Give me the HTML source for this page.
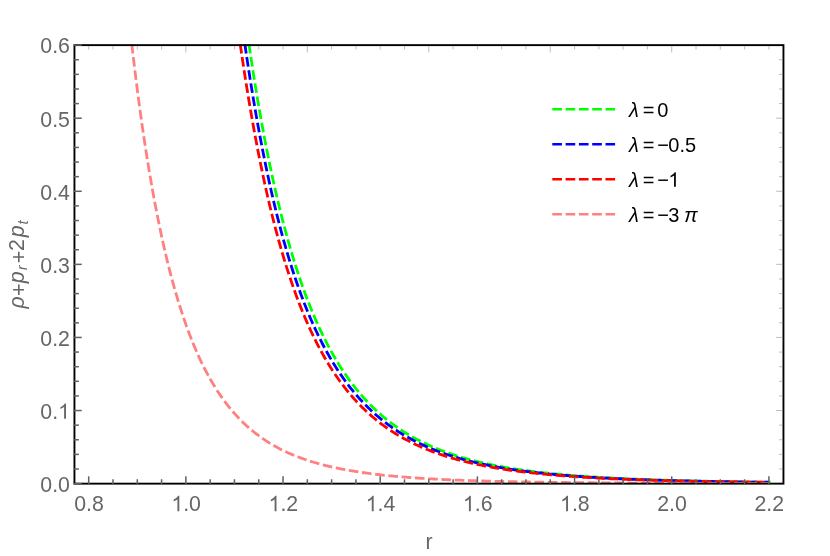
<!DOCTYPE html>
<html><head><meta charset="utf-8"><title>plot</title>
<style>html,body{margin:0;padding:0;background:#fff;overflow:hidden}svg{display:block;will-change:transform}text{font-family:"Liberation Sans",sans-serif}</style></head><body>
<svg width="830" height="556" viewBox="0 0 830 556">
<rect width="830" height="556" fill="#fff"/>
<defs><clipPath id="c"><rect x="74.45" y="44.13" width="709.00" height="439.52"/></clipPath></defs>
<g clip-path="url(#c)" fill="none" stroke-width="2.8" stroke-dasharray="9.64 3.66" stroke-dashoffset="-0.3">
<path d="M248.87,43.62 L248.94,44.07 L249.06,44.89 L249.21,45.95 L249.39,47.20 L249.60,48.61 L249.83,50.17 L250.08,51.86 L250.35,53.66 L250.63,55.57 L250.94,57.58 L251.25,59.68 L251.58,61.87 L251.93,64.14 L252.29,66.48 L252.66,68.89 L253.05,71.37 L253.44,73.91 L253.85,76.50 L254.27,79.15 L254.71,81.85 L255.15,84.60 L255.60,87.39 L256.07,90.23 L256.54,93.10 L257.02,96.01 L257.52,98.95 L258.02,101.93 L258.53,104.93 L259.06,107.96 L259.59,111.02 L260.13,114.10 L260.68,117.20 L261.23,120.31 L261.80,123.45 L262.37,126.60 L262.96,129.77 L263.55,132.95 L264.15,136.14 L264.75,139.33 L265.37,142.54 L265.99,145.75 L266.62,148.97 L267.26,152.19 L267.90,155.41 L268.56,158.64 L269.22,161.86 L269.88,165.09 L270.56,168.31 L271.24,171.53 L271.93,174.74 L272.62,177.95 L273.32,181.16 L274.03,184.35 L274.75,187.54 L275.47,190.72 L276.20,193.89 L276.93,197.05 L277.67,200.20 L278.42,203.34 L279.18,206.46 L279.94,209.57 L280.70,212.67 L281.48,215.75 L282.26,218.82 L283.04,221.87 L283.83,224.91 L284.63,227.93 L285.44,230.93 L286.25,233.92 L287.06,236.88 L287.88,239.83 L288.71,242.76 L289.54,245.67 L290.38,248.56 L291.22,251.43 L292.07,254.28 L292.93,257.11 L293.79,259.92 L294.66,262.71 L295.53,265.48 L296.41,268.22 L297.29,270.95 L298.18,273.65 L299.07,276.33 L299.97,278.98 L300.88,281.62 L301.78,284.23 L302.70,286.82 L303.62,289.38 L304.55,291.92 L305.48,294.44 L306.41,296.94 L307.35,299.41 L308.30,301.86 L309.25,304.28 L310.20,306.68 L311.16,309.06 L312.13,311.42 L313.10,313.75 L314.08,316.05 L315.06,318.34 L316.04,320.60 L317.03,322.83 L318.03,325.05 L319.03,327.24 L320.03,329.40 L321.04,331.54 L322.06,333.66 L323.07,335.76 L324.10,337.83 L325.13,339.88 L326.16,341.91 L327.20,343.91 L328.24,345.89 L329.28,347.85 L330.34,349.78 L331.39,351.69 L332.45,353.58 L333.52,355.45 L334.59,357.30 L335.66,359.12 L336.74,360.92 L337.82,362.70 L338.91,364.46 L340.00,366.19 L341.09,367.91 L342.19,369.60 L343.30,371.28 L344.41,372.93 L345.52,374.56 L346.64,376.17 L347.76,377.76 L348.88,379.33 L350.01,380.88 L351.15,382.40 L352.29,383.91 L353.43,385.40 L354.58,386.87 L355.73,388.32 L356.88,389.76 L358.04,391.17 L359.21,392.56 L360.37,393.94 L361.55,395.30 L362.72,396.63 L363.90,397.95 L365.08,399.26 L366.27,400.54 L367.46,401.81 L368.66,403.06 L369.86,404.29 L371.06,405.51 L372.27,406.71 L373.48,407.89 L374.70,409.05 L375.92,410.20 L377.14,411.34 L378.37,412.45 L379.60,413.55 L380.84,414.64 L382.08,415.71 L383.32,416.76 L384.57,417.80 L385.82,418.83 L387.07,419.84 L388.33,420.84 L389.59,421.82 L390.86,422.78 L392.13,423.74 L393.40,424.68 L394.68,425.60 L395.96,426.51 L397.24,427.41 L398.53,428.30 L399.82,429.17 L401.12,430.03 L402.42,430.88 L403.72,431.71 L405.03,432.53 L406.34,433.34 L407.65,434.14 L408.97,434.92 L410.29,435.70 L411.62,436.46 L412.94,437.21 L414.28,437.95 L415.61,438.68 L416.95,439.39 L418.29,440.10 L419.64,440.79 L420.99,441.48 L422.34,442.15 L423.70,442.82 L425.06,443.47 L426.42,444.12 L427.79,444.75 L429.16,445.37 L430.54,445.99 L431.92,446.59 L433.30,447.19 L434.68,447.77 L436.07,448.35 L437.46,448.92 L438.86,449.48 L440.26,450.03 L441.66,450.57 L443.06,451.11 L444.47,451.63 L445.88,452.15 L447.30,452.66 L448.72,453.16 L450.14,453.65 L451.57,454.14 L453.00,454.62 L454.43,455.09 L455.87,455.55 L457.30,456.00 L458.75,456.45 L460.19,456.89 L461.64,457.33 L463.09,457.75 L464.55,458.18 L466.01,458.59 L467.47,459.00 L468.94,459.40 L470.40,459.79 L471.88,460.18 L473.35,460.56 L474.83,460.94 L476.31,461.31 L477.80,461.67 L479.29,462.03 L480.78,462.38 L482.27,462.73 L483.77,463.07 L485.27,463.40 L486.77,463.73 L488.28,464.06 L489.79,464.38 L491.31,464.69 L492.82,465.00 L494.34,465.30 L495.86,465.60 L497.39,465.90 L498.92,466.19 L500.45,466.47 L501.99,466.75 L503.53,467.03 L505.07,467.30 L506.61,467.57 L508.16,467.83 L509.71,468.09 L511.27,468.34 L512.82,468.59 L514.38,468.84 L515.95,469.08 L517.51,469.32 L519.08,469.55 L520.66,469.78 L522.23,470.01 L523.81,470.23 L525.39,470.45 L526.98,470.66 L528.56,470.88 L530.15,471.09 L531.75,471.29 L533.35,471.49 L534.94,471.69 L536.55,471.89 L538.15,472.08 L539.76,472.27 L541.37,472.45 L542.99,472.63 L544.61,472.81 L546.23,472.99 L547.85,473.16 L549.48,473.34 L551.10,473.50 L552.74,473.67 L554.37,473.83 L556.01,473.99 L557.65,474.15 L559.30,474.30 L560.94,474.46 L562.59,474.61 L564.24,474.75 L565.90,474.90 L567.56,475.04 L569.22,475.18 L570.88,475.32 L572.55,475.45 L574.22,475.59 L575.89,475.72 L577.57,475.85 L579.25,475.97 L580.93,476.10 L582.61,476.22 L584.30,476.34 L585.99,476.46 L587.68,476.58 L589.38,476.69 L591.08,476.80 L592.78,476.91 L594.48,477.02 L596.19,477.13 L597.90,477.24 L599.61,477.34 L601.32,477.44 L603.04,477.54 L604.76,477.64 L606.49,477.74 L608.21,477.83 L609.94,477.93 L611.67,478.02 L613.41,478.11 L615.14,478.20 L616.88,478.29 L618.63,478.37 L620.37,478.46 L622.12,478.54 L623.87,478.62 L625.63,478.70 L627.38,478.78 L629.14,478.86 L630.90,478.94 L632.67,479.02 L634.44,479.09 L636.21,479.16 L637.98,479.23 L639.75,479.31 L641.53,479.37 L643.31,479.44 L645.10,479.51 L646.88,479.58 L648.67,479.64 L650.46,479.71 L652.26,479.77 L654.05,479.83 L655.85,479.89 L657.65,479.95 L659.46,480.01 L661.27,480.07 L663.08,480.13 L664.89,480.18 L666.70,480.24 L668.52,480.29 L670.34,480.34 L672.17,480.40 L673.99,480.45 L675.82,480.50 L677.65,480.55 L679.49,480.60 L681.32,480.65 L683.16,480.69 L685.00,480.74 L686.85,480.79 L688.69,480.83 L690.54,480.88 L692.39,480.92 L694.25,480.96 L696.11,481.01 L697.97,481.05 L699.83,481.09 L701.69,481.13 L703.56,481.17 L705.43,481.21 L707.30,481.24 L709.18,481.28 L711.05,481.32 L712.93,481.36 L714.82,481.39 L716.70,481.43 L718.59,481.46 L720.48,481.50 L722.37,481.53 L724.27,481.56 L726.17,481.60 L728.07,481.63 L729.97,481.66 L731.87,481.69 L733.78,481.72 L735.69,481.75 L737.61,481.78 L739.52,481.81 L741.44,481.84 L743.36,481.86 L745.28,481.89 L747.21,481.92 L749.13,481.95 L751.06,481.97 L753.00,482.00 L754.93,482.02 L756.87,482.05 L758.81,482.07 L760.75,482.10 L762.70,482.12 L764.65,482.14 L766.60,482.17 L768.55,482.19 L770.50,482.21" stroke="#00ff00"/>
<path d="M244.78,43.62 L244.85,44.07 L244.97,44.91 L245.12,45.98 L245.31,47.24 L245.52,48.68 L245.75,50.25 L246.00,51.96 L246.27,53.78 L246.55,55.72 L246.86,57.75 L247.17,59.88 L247.51,62.09 L247.86,64.38 L248.22,66.75 L248.59,69.19 L248.98,71.70 L249.38,74.26 L249.79,76.89 L250.21,79.57 L250.64,82.30 L251.09,85.08 L251.54,87.90 L252.01,90.76 L252.49,93.67 L252.97,96.61 L253.47,99.58 L253.98,102.59 L254.49,105.62 L255.02,108.68 L255.55,111.77 L256.09,114.88 L256.64,118.01 L257.20,121.16 L257.77,124.33 L258.35,127.51 L258.94,130.70 L259.53,133.91 L260.13,137.13 L260.74,140.36 L261.36,143.59 L261.98,146.83 L262.62,150.08 L263.26,153.33 L263.91,156.58 L264.56,159.83 L265.22,163.08 L265.89,166.33 L266.57,169.58 L267.26,172.82 L267.95,176.06 L268.65,179.29 L269.35,182.52 L270.06,185.74 L270.78,188.95 L271.51,192.15 L272.24,195.34 L272.98,198.52 L273.72,201.69 L274.47,204.85 L275.23,207.99 L276.00,211.12 L276.77,214.24 L277.54,217.34 L278.33,220.42 L279.12,223.49 L279.91,226.54 L280.71,229.58 L281.52,232.60 L282.33,235.60 L283.15,238.58 L283.98,241.54 L284.81,244.48 L285.65,247.40 L286.49,250.31 L287.34,253.19 L288.19,256.05 L289.05,258.89 L289.92,261.71 L290.79,264.50 L291.66,267.28 L292.54,270.03 L293.43,272.76 L294.32,275.47 L295.22,278.16 L296.13,280.82 L297.03,283.46 L297.95,286.07 L298.87,288.67 L299.79,291.24 L300.72,293.78 L301.66,296.30 L302.60,298.80 L303.54,301.28 L304.49,303.73 L305.45,306.15 L306.41,308.55 L307.37,310.93 L308.34,313.29 L309.32,315.62 L310.30,317.93 L311.28,320.21 L312.27,322.47 L313.27,324.70 L314.27,326.91 L315.27,329.10 L316.28,331.26 L317.30,333.40 L318.32,335.52 L319.34,337.61 L320.37,339.68 L321.40,341.72 L322.44,343.74 L323.48,345.74 L324.53,347.72 L325.58,349.67 L326.64,351.60 L327.70,353.51 L328.76,355.39 L329.83,357.25 L330.91,359.09 L331.98,360.90 L333.07,362.70 L334.16,364.47 L335.25,366.22 L336.34,367.95 L337.44,369.66 L338.55,371.34 L339.66,373.01 L340.77,374.65 L341.89,376.27 L343.01,377.87 L344.14,379.45 L345.27,381.01 L346.41,382.55 L347.55,384.07 L348.69,385.57 L349.84,387.05 L350.99,388.51 L352.15,389.95 L353.31,391.37 L354.47,392.78 L355.64,394.16 L356.82,395.52 L357.99,396.87 L359.17,398.20 L360.36,399.51 L361.55,400.80 L362.74,402.07 L363.94,403.33 L365.14,404.57 L366.35,405.79 L367.56,407.00 L368.77,408.18 L369.99,409.35 L371.21,410.51 L372.44,411.65 L373.66,412.77 L374.90,413.87 L376.14,414.96 L377.38,416.04 L378.62,417.10 L379.87,418.14 L381.12,419.17 L382.38,420.18 L383.64,421.18 L384.90,422.17 L386.17,423.14 L387.44,424.09 L388.72,425.03 L390.00,425.96 L391.28,426.87 L392.57,427.78 L393.86,428.66 L395.15,429.54 L396.45,430.40 L397.75,431.25 L399.06,432.08 L400.37,432.90 L401.68,433.71 L403.00,434.51 L404.32,435.30 L405.64,436.07 L406.97,436.83 L408.30,437.59 L409.64,438.32 L410.98,439.05 L412.32,439.77 L413.66,440.48 L415.01,441.17 L416.36,441.86 L417.72,442.53 L419.08,443.19 L420.44,443.85 L421.81,444.49 L423.18,445.12 L424.56,445.75 L425.93,446.36 L427.31,446.96 L428.70,447.56 L430.09,448.14 L431.48,448.72 L432.87,449.29 L434.27,449.85 L435.67,450.39 L437.08,450.94 L438.49,451.47 L439.90,451.99 L441.32,452.51 L442.73,453.02 L444.16,453.51 L445.58,454.01 L447.01,454.49 L448.44,454.97 L449.88,455.43 L451.32,455.90 L452.76,456.35 L454.21,456.80 L455.66,457.23 L457.11,457.67 L458.57,458.09 L460.03,458.51 L461.49,458.92 L462.95,459.33 L464.42,459.73 L465.90,460.12 L467.37,460.50 L468.85,460.88 L470.33,461.26 L471.82,461.62 L473.31,461.99 L474.80,462.34 L476.29,462.69 L477.79,463.04 L479.29,463.37 L480.80,463.71 L482.31,464.04 L483.82,464.36 L485.33,464.68 L486.85,464.99 L488.37,465.29 L489.90,465.60 L491.42,465.89 L492.95,466.18 L494.49,466.47 L496.02,466.75 L497.56,467.03 L499.11,467.31 L500.65,467.58 L502.20,467.84 L503.75,468.10 L505.31,468.36 L506.87,468.61 L508.43,468.85 L509.99,469.10 L511.56,469.34 L513.13,469.57 L514.71,469.81 L516.28,470.03 L517.86,470.26 L519.45,470.48 L521.03,470.69 L522.62,470.91 L524.21,471.12 L525.81,471.32 L527.41,471.53 L529.01,471.73 L530.61,471.92 L532.22,472.11 L533.83,472.30 L535.44,472.49 L537.06,472.67 L538.68,472.85 L540.30,473.03 L541.93,473.21 L543.55,473.38 L545.19,473.55 L546.82,473.71 L548.46,473.88 L550.10,474.04 L551.74,474.19 L553.38,474.35 L555.03,474.50 L556.69,474.65 L558.34,474.80 L560.00,474.94 L561.66,475.09 L563.32,475.23 L564.99,475.37 L566.66,475.50 L568.33,475.64 L570.00,475.77 L571.68,475.90 L573.36,476.02 L575.05,476.15 L576.73,476.27 L578.42,476.39 L580.11,476.51 L581.81,476.63 L583.51,476.74 L585.21,476.85 L586.91,476.96 L588.62,477.07 L590.33,477.18 L592.04,477.29 L593.75,477.39 L595.47,477.49 L597.19,477.59 L598.91,477.69 L600.64,477.79 L602.37,477.88 L604.10,477.98 L605.84,478.07 L607.57,478.16 L609.31,478.25 L611.06,478.34 L612.80,478.42 L614.55,478.51 L616.30,478.59 L618.05,478.67 L619.81,478.75 L621.57,478.83 L623.33,478.91 L625.10,478.99 L626.86,479.06 L628.63,479.14 L630.41,479.21 L632.18,479.28 L633.96,479.35 L635.74,479.42 L637.53,479.49 L639.31,479.56 L641.10,479.62 L642.89,479.69 L644.69,479.75 L646.49,479.81 L648.29,479.88 L650.09,479.94 L651.89,480.00 L653.70,480.06 L655.51,480.11 L657.33,480.17 L659.14,480.23 L660.96,480.28 L662.78,480.33 L664.61,480.39 L666.43,480.44 L668.26,480.49 L670.09,480.54 L671.93,480.59 L673.77,480.64 L675.61,480.69 L677.45,480.74 L679.29,480.78 L681.14,480.83 L682.99,480.87 L684.84,480.92 L686.70,480.96 L688.56,481.00 L690.42,481.04 L692.28,481.09 L694.15,481.13 L696.02,481.17 L697.89,481.21 L699.76,481.24 L701.64,481.28 L703.52,481.32 L705.40,481.36 L707.28,481.39 L709.17,481.43 L711.06,481.46 L712.95,481.50 L714.84,481.53 L716.74,481.56 L718.64,481.60 L720.54,481.63 L722.44,481.66 L724.35,481.69 L726.26,481.72 L728.17,481.75 L730.09,481.78 L732.00,481.81 L733.92,481.84 L735.85,481.87 L737.77,481.90 L739.70,481.92 L741.63,481.95 L743.56,481.98 L745.49,482.00 L747.43,482.03 L749.37,482.05 L751.31,482.08 L753.26,482.10 L755.20,482.13 L757.15,482.15 L759.10,482.17 L761.06,482.20 L763.01,482.22 L764.97,482.24 L766.94,482.26 L768.90,482.28" stroke="#0000ff"/>
<path d="M240.16,43.62 L240.22,44.08 L240.34,44.93 L240.50,46.02 L240.68,47.31 L240.89,48.76 L241.13,50.37 L241.38,52.10 L241.65,53.96 L241.94,55.93 L242.25,57.99 L242.57,60.16 L242.90,62.41 L243.25,64.74 L243.62,67.14 L243.99,69.62 L244.39,72.17 L244.79,74.78 L245.20,77.44 L245.63,80.17 L246.07,82.94 L246.52,85.76 L246.98,88.63 L247.45,91.54 L247.93,94.48 L248.42,97.47 L248.92,100.49 L249.43,103.54 L249.95,106.62 L250.48,109.72 L251.02,112.85 L251.56,116.01 L252.12,119.18 L252.68,122.37 L253.26,125.58 L253.84,128.81 L254.43,132.04 L255.03,135.29 L255.64,138.55 L256.25,141.82 L256.88,145.10 L257.51,148.38 L258.15,151.66 L258.79,154.95 L259.45,158.24 L260.11,161.53 L260.78,164.82 L261.45,168.10 L262.13,171.39 L262.83,174.66 L263.52,177.94 L264.23,181.20 L264.94,184.46 L265.66,187.72 L266.38,190.96 L267.11,194.19 L267.85,197.41 L268.60,200.62 L269.35,203.82 L270.11,207.00 L270.87,210.17 L271.64,213.33 L272.42,216.47 L273.20,219.60 L273.99,222.71 L274.79,225.80 L275.59,228.87 L276.40,231.93 L277.22,234.97 L278.04,237.99 L278.86,240.99 L279.70,243.97 L280.53,246.93 L281.38,249.87 L282.23,252.78 L283.08,255.68 L283.95,258.56 L284.81,261.41 L285.69,264.24 L286.56,267.05 L287.45,269.84 L288.34,272.60 L289.23,275.34 L290.13,278.06 L291.04,280.75 L291.95,283.42 L292.87,286.07 L293.79,288.69 L294.72,291.29 L295.65,293.87 L296.59,296.42 L297.53,298.94 L298.48,301.45 L299.43,303.92 L300.39,306.37 L301.35,308.80 L302.32,311.21 L303.30,313.59 L304.28,315.94 L305.26,318.27 L306.25,320.58 L307.24,322.86 L308.24,325.11 L309.24,327.34 L310.25,329.55 L311.27,331.73 L312.29,333.89 L313.31,336.03 L314.34,338.14 L315.37,340.22 L316.41,342.29 L317.45,344.33 L318.50,346.34 L319.55,348.33 L320.60,350.30 L321.66,352.24 L322.73,354.16 L323.80,356.06 L324.87,357.93 L325.95,359.79 L327.04,361.61 L328.13,363.42 L329.22,365.20 L330.32,366.97 L331.42,368.70 L332.52,370.42 L333.63,372.12 L334.75,373.79 L335.87,375.44 L336.99,377.07 L338.12,378.68 L339.25,380.27 L340.39,381.84 L341.53,383.38 L342.68,384.91 L343.83,386.42 L344.98,387.90 L346.14,389.37 L347.30,390.81 L348.47,392.24 L349.64,393.65 L350.81,395.03 L351.99,396.40 L353.18,397.75 L354.36,399.08 L355.56,400.40 L356.75,401.69 L357.95,402.97 L359.16,404.22 L360.36,405.46 L361.58,406.69 L362.79,407.89 L364.01,409.08 L365.24,410.25 L366.47,411.41 L367.70,412.55 L368.93,413.67 L370.17,414.77 L371.42,415.86 L372.67,416.94 L373.92,417.99 L375.17,419.04 L376.43,420.06 L377.70,421.08 L378.97,422.07 L380.24,423.06 L381.51,424.02 L382.79,424.98 L384.07,425.92 L385.36,426.84 L386.65,427.75 L387.95,428.65 L389.25,429.54 L390.55,430.41 L391.85,431.26 L393.16,432.11 L394.48,432.94 L395.79,433.76 L397.11,434.57 L398.44,435.36 L399.77,436.14 L401.10,436.91 L402.43,437.67 L403.77,438.42 L405.12,439.15 L406.46,439.88 L407.81,440.59 L409.17,441.29 L410.53,441.98 L411.89,442.66 L413.25,443.33 L414.62,443.99 L415.99,444.64 L417.37,445.27 L418.75,445.90 L420.13,446.52 L421.51,447.13 L422.90,447.73 L424.30,448.32 L425.69,448.90 L427.09,449.47 L428.50,450.03 L429.91,450.58 L431.32,451.13 L432.73,451.66 L434.15,452.19 L435.57,452.71 L436.99,453.22 L438.42,453.72 L439.85,454.21 L441.29,454.70 L442.73,455.18 L444.17,455.65 L445.61,456.11 L447.06,456.57 L448.51,457.02 L449.97,457.46 L451.43,457.89 L452.89,458.32 L454.36,458.74 L455.83,459.15 L457.30,459.55 L458.77,459.95 L460.25,460.35 L461.73,460.73 L463.22,461.11 L464.71,461.49 L466.20,461.86 L467.70,462.22 L469.19,462.57 L470.70,462.92 L472.20,463.27 L473.71,463.61 L475.22,463.94 L476.74,464.27 L478.25,464.59 L479.78,464.91 L481.30,465.22 L482.83,465.53 L484.36,465.83 L485.89,466.12 L487.43,466.42 L488.97,466.70 L490.52,466.98 L492.06,467.26 L493.61,467.53 L495.17,467.80 L496.72,468.07 L498.28,468.33 L499.85,468.58 L501.41,468.83 L502.98,469.08 L504.55,469.32 L506.13,469.56 L507.71,469.79 L509.29,470.02 L510.87,470.25 L512.46,470.47 L514.05,470.69 L515.65,470.91 L517.24,471.12 L518.84,471.33 L520.45,471.53 L522.05,471.74 L523.66,471.93 L525.27,472.13 L526.89,472.32 L528.51,472.51 L530.13,472.69 L531.75,472.88 L533.38,473.06 L535.01,473.23 L536.64,473.41 L538.28,473.58 L539.92,473.74 L541.56,473.91 L543.21,474.07 L544.86,474.23 L546.51,474.38 L548.16,474.54 L549.82,474.69 L551.48,474.84 L553.14,474.98 L554.81,475.13 L556.48,475.27 L558.15,475.41 L559.83,475.55 L561.51,475.68 L563.19,475.81 L564.87,475.94 L566.56,476.07 L568.25,476.19 L569.94,476.32 L571.64,476.44 L573.33,476.56 L575.04,476.68 L576.74,476.79 L578.45,476.90 L580.16,477.02 L581.87,477.12 L583.59,477.23 L585.30,477.34 L587.03,477.44 L588.75,477.54 L590.48,477.65 L592.21,477.74 L593.94,477.84 L595.67,477.94 L597.41,478.03 L599.15,478.12 L600.90,478.21 L602.65,478.30 L604.40,478.39 L606.15,478.48 L607.90,478.56 L609.66,478.65 L611.42,478.73 L613.19,478.81 L614.95,478.89 L616.72,478.97 L618.49,479.04 L620.27,479.12 L622.05,479.19 L623.83,479.26 L625.61,479.34 L627.40,479.41 L629.18,479.48 L630.98,479.54 L632.77,479.61 L634.57,479.68 L636.37,479.74 L638.17,479.81 L639.97,479.87 L641.78,479.93 L643.59,479.99 L645.41,480.05 L647.22,480.11 L649.04,480.17 L650.86,480.22 L652.69,480.28 L654.51,480.33 L656.34,480.39 L658.17,480.44 L660.01,480.49 L661.85,480.54 L663.69,480.59 L665.53,480.64 L667.37,480.69 L669.22,480.74 L671.07,480.78 L672.93,480.83 L674.78,480.88 L676.64,480.92 L678.50,480.96 L680.37,481.01 L682.23,481.05 L684.10,481.09 L685.97,481.13 L687.85,481.17 L689.73,481.21 L691.61,481.25 L693.49,481.29 L695.37,481.33 L697.26,481.36 L699.15,481.40 L701.04,481.44 L702.94,481.47 L704.84,481.51 L706.74,481.54 L708.64,481.57 L710.55,481.61 L712.45,481.64 L714.37,481.67 L716.28,481.70 L718.19,481.73 L720.11,481.76 L722.03,481.79 L723.96,481.82 L725.88,481.85 L727.81,481.88 L729.74,481.91 L731.68,481.94 L733.61,481.96 L735.55,481.99 L737.49,482.01 L739.44,482.04 L741.39,482.07 L743.33,482.09 L745.29,482.11 L747.24,482.14 L749.20,482.16 L751.16,482.19 L753.12,482.21 L755.08,482.23 L757.05,482.25 L759.02,482.27 L760.99,482.30 L762.96,482.32 L764.94,482.34 L766.92,482.36 L768.90,482.38" stroke="#ff0000"/>
<path d="M131.72,43.62 L131.80,44.32 L131.94,45.59 L132.13,47.23 L132.36,49.17 L132.61,51.35 L132.89,53.75 L133.19,56.34 L133.52,59.11 L133.87,62.03 L134.24,65.09 L134.62,68.29 L135.03,71.60 L135.45,75.03 L135.89,78.55 L136.35,82.17 L136.82,85.87 L137.30,89.65 L137.80,93.50 L138.31,97.42 L138.84,101.39 L139.38,105.42 L139.94,109.50 L140.50,113.62 L141.08,117.77 L141.67,121.96 L142.28,126.18 L142.89,130.43 L143.52,134.70 L144.16,138.98 L144.81,143.28 L145.47,147.60 L146.14,151.91 L146.82,156.24 L147.51,160.56 L148.21,164.89 L148.92,169.21 L149.64,173.52 L150.38,177.83 L151.12,182.12 L151.87,186.40 L152.63,190.67 L153.40,194.92 L154.18,199.15 L154.96,203.36 L155.76,207.55 L156.57,211.71 L157.38,215.85 L158.21,219.96 L159.04,224.04 L159.88,228.09 L160.73,232.11 L161.58,236.10 L162.45,240.06 L163.32,243.98 L164.21,247.87 L165.10,251.72 L165.99,255.53 L166.90,259.31 L167.81,263.05 L168.73,266.76 L169.66,270.42 L170.60,274.04 L171.55,277.62 L172.50,281.17 L173.46,284.67 L174.42,288.13 L175.40,291.55 L176.38,294.92 L177.37,298.26 L178.36,301.55 L179.37,304.80 L180.38,308.01 L181.40,311.18 L182.42,314.30 L183.45,317.38 L184.49,320.42 L185.53,323.42 L186.59,326.37 L187.64,329.28 L188.71,332.15 L189.78,334.98 L190.86,337.76 L191.94,340.51 L193.04,343.21 L194.13,345.87 L195.24,348.49 L196.35,351.07 L197.47,353.61 L198.59,356.11 L199.72,358.57 L200.86,360.99 L202.00,363.37 L203.15,365.71 L204.31,368.01 L205.47,370.28 L206.63,372.50 L207.81,374.69 L208.99,376.85 L210.17,378.96 L211.37,381.04 L212.56,383.08 L213.77,385.09 L214.98,387.06 L216.19,389.00 L217.41,390.91 L218.64,392.77 L219.87,394.61 L221.11,396.41 L222.36,398.19 L223.61,399.92 L224.86,401.63 L226.12,403.31 L227.39,404.95 L228.66,406.56 L229.94,408.15 L231.23,409.70 L232.52,411.23 L233.81,412.72 L235.11,414.19 L236.42,415.63 L237.73,417.05 L239.05,418.43 L240.37,419.79 L241.70,421.12 L243.03,422.43 L244.37,423.71 L245.71,424.97 L247.06,426.20 L248.41,427.41 L249.77,428.59 L251.14,429.76 L252.51,430.89 L253.88,432.01 L255.26,433.10 L256.65,434.17 L258.04,435.22 L259.44,436.25 L260.84,437.26 L262.24,438.25 L263.65,439.21 L265.07,440.16 L266.49,441.09 L267.92,442.00 L269.35,442.89 L270.79,443.77 L272.23,444.62 L273.67,445.46 L275.12,446.28 L276.58,447.08 L278.04,447.87 L279.51,448.64 L280.98,449.39 L282.45,450.13 L283.93,450.85 L285.42,451.56 L286.91,452.25 L288.40,452.93 L289.90,453.60 L291.40,454.25 L292.91,454.88 L294.43,455.51 L295.95,456.12 L297.47,456.72 L299.00,457.30 L300.53,457.87 L302.07,458.43 L303.61,458.98 L305.15,459.52 L306.70,460.04 L308.26,460.55 L309.82,461.06 L311.38,461.55 L312.95,462.03 L314.53,462.50 L316.11,462.96 L317.69,463.41 L319.27,463.85 L320.87,464.28 L322.46,464.71 L324.06,465.12 L325.67,465.52 L327.28,465.92 L328.89,466.31 L330.51,466.69 L332.13,467.06 L333.76,467.42 L335.39,467.77 L337.03,468.12 L338.67,468.46 L340.31,468.79 L341.96,469.11 L343.62,469.43 L345.27,469.74 L346.93,470.05 L348.60,470.34 L350.27,470.63 L351.95,470.92 L353.63,471.19 L355.31,471.47 L357.00,471.73 L358.69,471.99 L360.38,472.25 L362.08,472.50 L363.79,472.74 L365.50,472.98 L367.21,473.21 L368.93,473.44 L370.65,473.66 L372.37,473.88 L374.10,474.09 L375.83,474.30 L377.57,474.50 L379.31,474.70 L381.06,474.90 L382.81,475.09 L384.56,475.27 L386.32,475.45 L388.08,475.63 L389.85,475.81 L391.62,475.98 L393.39,476.14 L395.17,476.31 L396.95,476.47 L398.74,476.62 L400.53,476.77 L402.32,476.92 L404.12,477.07 L405.92,477.21 L407.73,477.35 L409.54,477.49 L411.35,477.62 L413.17,477.75 L414.99,477.88 L416.82,478.00 L418.65,478.12 L420.48,478.24 L422.32,478.36 L424.16,478.47 L426.00,478.58 L427.85,478.69 L429.71,478.80 L431.56,478.90 L433.42,479.01 L435.29,479.11 L437.16,479.20 L439.03,479.30 L440.90,479.39 L442.78,479.48 L444.67,479.57 L446.55,479.66 L448.44,479.74 L450.34,479.83 L452.24,479.91 L454.14,479.99 L456.05,480.07 L457.96,480.14 L459.87,480.22 L461.79,480.29 L463.71,480.36 L465.63,480.43 L467.56,480.50 L469.49,480.57 L471.43,480.63 L473.37,480.70 L475.31,480.76 L477.26,480.82 L479.21,480.88 L481.16,480.94 L483.12,480.99 L485.08,481.05 L487.04,481.11 L489.01,481.16 L490.99,481.21 L492.96,481.26 L494.94,481.31 L496.92,481.36 L498.91,481.41 L500.90,481.46 L502.89,481.50 L504.89,481.55 L506.89,481.59 L508.90,481.63 L510.90,481.67 L512.92,481.72 L514.93,481.76 L516.95,481.80 L518.97,481.83 L521.00,481.87 L523.03,481.91 L525.06,481.94 L527.10,481.98 L529.14,482.01 L531.18,482.05 L533.23,482.08 L535.28,482.11 L537.33,482.14 L539.39,482.17 L541.45,482.20 L543.51,482.23 L545.58,482.26 L547.65,482.29 L549.73,482.32 L551.80,482.35 L553.88,482.37 L555.97,482.40 L558.06,482.42 L560.15,482.45 L562.24,482.47 L564.34,482.50 L566.44,482.52 L568.55,482.54 L570.66,482.56 L572.77,482.59 L574.89,482.61 L577.00,482.63 L579.13,482.65 L581.25,482.67 L583.38,482.69 L585.51,482.71 L587.65,482.73 L589.79,482.74 L591.93,482.76 L594.07,482.78 L596.22,482.80 L598.38,482.81 L600.53,482.83 L602.69,482.85 L604.85,482.86 L607.02,482.88 L609.19,482.89 L611.36,482.91 L613.53,482.92 L615.71,482.94 L617.89,482.95 L620.08,482.96 L622.27,482.98 L624.46,482.99 L626.65,483.00 L628.85,483.01 L631.05,483.03 L633.26,483.04 L635.47,483.05 L637.68,483.06 L639.89,483.07 L642.11,483.08 L644.33,483.10 L646.55,483.11 L648.78,483.12 L651.01,483.13 L653.24,483.14 L655.48,483.15 L657.72,483.15 L659.96,483.16 L662.21,483.17 L664.46,483.18 L666.71,483.19 L668.97,483.20 L671.23,483.21 L673.49,483.22 L675.75,483.22 L678.02,483.23 L680.29,483.24 L682.57,483.25 L684.85,483.25 L687.13,483.26 L689.41,483.27 L691.70,483.28 L693.99,483.28 L696.28,483.29 L698.58,483.30 L700.88,483.30 L703.18,483.31 L705.49,483.31 L707.80,483.32 L710.11,483.33 L712.42,483.33 L714.74,483.34 L717.06,483.34 L719.39,483.35 L721.71,483.35 L724.04,483.36 L726.38,483.36 L728.71,483.37 L731.05,483.37 L733.40,483.38 L735.74,483.38 L738.09,483.39 L740.44,483.39 L742.80,483.40 L745.16,483.40 L747.52,483.40 L749.88,483.41 L752.25,483.41 L754.62,483.42 L756.99,483.42 L759.37,483.42 L761.75,483.43 L764.13,483.43 L766.51,483.44 L768.90,483.44" stroke="#ff8080"/>
</g>
<rect x="74.45" y="45.13" width="709.00" height="438.52" fill="none" stroke="#000" stroke-width="1.9"/>
<g fill="none"><path d="M88.70,484.45 v-8.10" stroke="#606060" stroke-width="1.5"/><path d="M88.70,46.13 v3.40" stroke="#a0a0a0" stroke-width="0.7"/><path d="M112.99,484.45 v-5.20" stroke="#606060" stroke-width="1.5"/><path d="M112.99,46.13 v3.40" stroke="#a0a0a0" stroke-width="0.7"/><path d="M137.29,484.45 v-5.20" stroke="#606060" stroke-width="1.5"/><path d="M137.29,46.13 v3.40" stroke="#a0a0a0" stroke-width="0.7"/><path d="M161.58,484.45 v-5.20" stroke="#606060" stroke-width="1.5"/><path d="M161.58,46.13 v3.40" stroke="#a0a0a0" stroke-width="0.7"/><path d="M185.87,484.45 v-8.10" stroke="#606060" stroke-width="1.5"/><path d="M185.87,46.13 v6.30" stroke="#a0a0a0" stroke-width="0.7"/><path d="M210.16,484.45 v-5.20" stroke="#606060" stroke-width="1.5"/><path d="M210.16,46.13 v3.40" stroke="#a0a0a0" stroke-width="0.7"/><path d="M234.46,484.45 v-5.20" stroke="#606060" stroke-width="1.5"/><path d="M234.46,46.13 v3.40" stroke="#a0a0a0" stroke-width="0.7"/><path d="M258.75,484.45 v-5.20" stroke="#606060" stroke-width="1.5"/><path d="M258.75,46.13 v3.40" stroke="#a0a0a0" stroke-width="0.7"/><path d="M283.04,484.45 v-8.10" stroke="#606060" stroke-width="1.5"/><path d="M283.04,46.13 v3.40" stroke="#a0a0a0" stroke-width="0.7"/><path d="M307.34,484.45 v-5.20" stroke="#606060" stroke-width="1.5"/><path d="M307.34,46.13 v6.30" stroke="#a0a0a0" stroke-width="0.7"/><path d="M331.63,484.45 v-5.20" stroke="#606060" stroke-width="1.5"/><path d="M331.63,46.13 v3.40" stroke="#a0a0a0" stroke-width="0.7"/><path d="M355.92,484.45 v-5.20" stroke="#606060" stroke-width="1.5"/><path d="M355.92,46.13 v3.40" stroke="#a0a0a0" stroke-width="0.7"/><path d="M380.21,484.45 v-8.10" stroke="#606060" stroke-width="1.5"/><path d="M380.21,46.13 v3.40" stroke="#a0a0a0" stroke-width="0.7"/><path d="M404.51,484.45 v-5.20" stroke="#606060" stroke-width="1.5"/><path d="M404.51,46.13 v3.40" stroke="#a0a0a0" stroke-width="0.7"/><path d="M428.80,484.45 v-5.20" stroke="#606060" stroke-width="1.5"/><path d="M428.80,46.13 v6.30" stroke="#a0a0a0" stroke-width="0.7"/><path d="M453.09,484.45 v-5.20" stroke="#606060" stroke-width="1.5"/><path d="M453.09,46.13 v3.40" stroke="#a0a0a0" stroke-width="0.7"/><path d="M477.39,484.45 v-8.10" stroke="#606060" stroke-width="1.5"/><path d="M477.39,46.13 v3.40" stroke="#a0a0a0" stroke-width="0.7"/><path d="M501.68,484.45 v-5.20" stroke="#606060" stroke-width="1.5"/><path d="M501.68,46.13 v3.40" stroke="#a0a0a0" stroke-width="0.7"/><path d="M525.97,484.45 v-5.20" stroke="#606060" stroke-width="1.5"/><path d="M525.97,46.13 v3.40" stroke="#a0a0a0" stroke-width="0.7"/><path d="M550.26,484.45 v-5.20" stroke="#606060" stroke-width="1.5"/><path d="M550.26,46.13 v6.30" stroke="#a0a0a0" stroke-width="0.7"/><path d="M574.56,484.45 v-8.10" stroke="#606060" stroke-width="1.5"/><path d="M574.56,46.13 v3.40" stroke="#a0a0a0" stroke-width="0.7"/><path d="M598.85,484.45 v-5.20" stroke="#606060" stroke-width="1.5"/><path d="M598.85,46.13 v3.40" stroke="#a0a0a0" stroke-width="0.7"/><path d="M623.14,484.45 v-5.20" stroke="#606060" stroke-width="1.5"/><path d="M623.14,46.13 v3.40" stroke="#a0a0a0" stroke-width="0.7"/><path d="M647.44,484.45 v-5.20" stroke="#606060" stroke-width="1.5"/><path d="M647.44,46.13 v3.40" stroke="#a0a0a0" stroke-width="0.7"/><path d="M671.73,484.45 v-8.10" stroke="#606060" stroke-width="1.5"/><path d="M671.73,46.13 v6.30" stroke="#a0a0a0" stroke-width="0.7"/><path d="M696.02,484.45 v-5.20" stroke="#606060" stroke-width="1.5"/><path d="M696.02,46.13 v3.40" stroke="#a0a0a0" stroke-width="0.7"/><path d="M720.31,484.45 v-5.20" stroke="#606060" stroke-width="1.5"/><path d="M720.31,46.13 v3.40" stroke="#a0a0a0" stroke-width="0.7"/><path d="M744.61,484.45 v-5.20" stroke="#606060" stroke-width="1.5"/><path d="M744.61,46.13 v3.40" stroke="#a0a0a0" stroke-width="0.7"/><path d="M768.90,484.45 v-8.10" stroke="#606060" stroke-width="1.5"/><path d="M768.90,46.13 v3.40" stroke="#a0a0a0" stroke-width="0.7"/><path d="M73.65,483.62 h8.10" stroke="#606060" stroke-width="1.5"/><path d="M73.65,469.00 h5.20" stroke="#606060" stroke-width="1.5"/><path d="M782.45,469.00 h-3.40" stroke="#a0a0a0" stroke-width="0.7"/><path d="M73.65,454.39 h5.20" stroke="#606060" stroke-width="1.5"/><path d="M782.45,454.39 h-3.40" stroke="#a0a0a0" stroke-width="0.7"/><path d="M73.65,439.77 h5.20" stroke="#606060" stroke-width="1.5"/><path d="M782.45,439.77 h-3.40" stroke="#a0a0a0" stroke-width="0.7"/><path d="M73.65,425.15 h5.20" stroke="#606060" stroke-width="1.5"/><path d="M782.45,425.15 h-3.40" stroke="#a0a0a0" stroke-width="0.7"/><path d="M73.65,410.54 h8.10" stroke="#606060" stroke-width="1.5"/><path d="M782.45,410.54 h-6.30" stroke="#a0a0a0" stroke-width="0.7"/><path d="M73.65,395.92 h5.20" stroke="#606060" stroke-width="1.5"/><path d="M782.45,395.92 h-3.40" stroke="#a0a0a0" stroke-width="0.7"/><path d="M73.65,381.30 h5.20" stroke="#606060" stroke-width="1.5"/><path d="M782.45,381.30 h-3.40" stroke="#a0a0a0" stroke-width="0.7"/><path d="M73.65,366.69 h5.20" stroke="#606060" stroke-width="1.5"/><path d="M782.45,366.69 h-3.40" stroke="#a0a0a0" stroke-width="0.7"/><path d="M73.65,352.07 h5.20" stroke="#606060" stroke-width="1.5"/><path d="M782.45,352.07 h-3.40" stroke="#a0a0a0" stroke-width="0.7"/><path d="M73.65,337.45 h8.10" stroke="#606060" stroke-width="1.5"/><path d="M782.45,337.45 h-6.30" stroke="#a0a0a0" stroke-width="0.7"/><path d="M73.65,322.84 h5.20" stroke="#606060" stroke-width="1.5"/><path d="M782.45,322.84 h-3.40" stroke="#a0a0a0" stroke-width="0.7"/><path d="M73.65,308.22 h5.20" stroke="#606060" stroke-width="1.5"/><path d="M782.45,308.22 h-3.40" stroke="#a0a0a0" stroke-width="0.7"/><path d="M73.65,293.60 h5.20" stroke="#606060" stroke-width="1.5"/><path d="M782.45,293.60 h-3.40" stroke="#a0a0a0" stroke-width="0.7"/><path d="M73.65,278.99 h5.20" stroke="#606060" stroke-width="1.5"/><path d="M782.45,278.99 h-3.40" stroke="#a0a0a0" stroke-width="0.7"/><path d="M73.65,264.37 h8.10" stroke="#606060" stroke-width="1.5"/><path d="M782.45,264.37 h-6.30" stroke="#a0a0a0" stroke-width="0.7"/><path d="M73.65,249.75 h5.20" stroke="#606060" stroke-width="1.5"/><path d="M782.45,249.75 h-3.40" stroke="#a0a0a0" stroke-width="0.7"/><path d="M73.65,235.14 h5.20" stroke="#606060" stroke-width="1.5"/><path d="M782.45,235.14 h-3.40" stroke="#a0a0a0" stroke-width="0.7"/><path d="M73.65,220.52 h5.20" stroke="#606060" stroke-width="1.5"/><path d="M782.45,220.52 h-3.40" stroke="#a0a0a0" stroke-width="0.7"/><path d="M73.65,205.90 h5.20" stroke="#606060" stroke-width="1.5"/><path d="M782.45,205.90 h-3.40" stroke="#a0a0a0" stroke-width="0.7"/><path d="M73.65,191.29 h8.10" stroke="#606060" stroke-width="1.5"/><path d="M782.45,191.29 h-6.30" stroke="#a0a0a0" stroke-width="0.7"/><path d="M73.65,176.67 h5.20" stroke="#606060" stroke-width="1.5"/><path d="M782.45,176.67 h-3.40" stroke="#a0a0a0" stroke-width="0.7"/><path d="M73.65,162.05 h5.20" stroke="#606060" stroke-width="1.5"/><path d="M782.45,162.05 h-3.40" stroke="#a0a0a0" stroke-width="0.7"/><path d="M73.65,147.44 h5.20" stroke="#606060" stroke-width="1.5"/><path d="M782.45,147.44 h-3.40" stroke="#a0a0a0" stroke-width="0.7"/><path d="M73.65,132.82 h5.20" stroke="#606060" stroke-width="1.5"/><path d="M782.45,132.82 h-3.40" stroke="#a0a0a0" stroke-width="0.7"/><path d="M73.65,118.20 h8.10" stroke="#606060" stroke-width="1.5"/><path d="M782.45,118.20 h-6.30" stroke="#a0a0a0" stroke-width="0.7"/><path d="M73.65,103.59 h5.20" stroke="#606060" stroke-width="1.5"/><path d="M782.45,103.59 h-3.40" stroke="#a0a0a0" stroke-width="0.7"/><path d="M73.65,88.97 h5.20" stroke="#606060" stroke-width="1.5"/><path d="M782.45,88.97 h-3.40" stroke="#a0a0a0" stroke-width="0.7"/><path d="M73.65,74.35 h5.20" stroke="#606060" stroke-width="1.5"/><path d="M782.45,74.35 h-3.40" stroke="#a0a0a0" stroke-width="0.7"/><path d="M73.65,59.74 h5.20" stroke="#606060" stroke-width="1.5"/><path d="M782.45,59.74 h-3.40" stroke="#a0a0a0" stroke-width="0.7"/><path d="M73.65,45.12 h8.10" stroke="#606060" stroke-width="1.5"/></g>
<g fill="#666">
<g transform="translate(74.20,511.20) scale(1,1.040)"><text x="0.00 11.85 17.76" font-size="21.30">0.8</text></g>
<g transform="translate(171.37,511.20) scale(1,1.040)"><path transform="translate(0.00,0) scale(0.01040,-0.01010)" d="M763 0H583V1147Q518 1085 412.5 1023T223 930V1104Q374 1175 487 1276T647 1472H763Z"/><text x="11.85 17.76" font-size="21.30">.0</text></g>
<g transform="translate(268.54,511.20) scale(1,1.040)"><path transform="translate(0.00,0) scale(0.01040,-0.01010)" d="M763 0H583V1147Q518 1085 412.5 1023T223 930V1104Q374 1175 487 1276T647 1472H763Z"/><text x="11.85 17.76" font-size="21.30">.2</text></g>
<g transform="translate(365.71,511.20) scale(1,1.040)"><path transform="translate(0.00,0) scale(0.01040,-0.01010)" d="M763 0H583V1147Q518 1085 412.5 1023T223 930V1104Q374 1175 487 1276T647 1472H763Z"/><text x="11.85 17.76" font-size="21.30">.4</text></g>
<g transform="translate(462.88,511.20) scale(1,1.040)"><path transform="translate(0.00,0) scale(0.01040,-0.01010)" d="M763 0H583V1147Q518 1085 412.5 1023T223 930V1104Q374 1175 487 1276T647 1472H763Z"/><text x="11.85 17.76" font-size="21.30">.6</text></g>
<g transform="translate(560.05,511.20) scale(1,1.040)"><path transform="translate(0.00,0) scale(0.01040,-0.01010)" d="M763 0H583V1147Q518 1085 412.5 1023T223 930V1104Q374 1175 487 1276T647 1472H763Z"/><text x="11.85 17.76" font-size="21.30">.8</text></g>
<g transform="translate(657.22,511.20) scale(1,1.040)"><text x="0.00 11.85 17.76" font-size="21.30">2.0</text></g>
<g transform="translate(754.40,511.20) scale(1,1.040)"><text x="0.00 11.85 17.76" font-size="21.30">2.2</text></g>
<g transform="translate(40.29,491.92) scale(1,1.040)"><text x="0.00 11.85 17.76" font-size="21.30">0.0</text></g>
<g transform="translate(40.29,418.84) scale(1,1.040)"><text x="0.00 11.85" font-size="21.30">0.</text><path transform="translate(17.76,0) scale(0.01040,-0.01010)" d="M763 0H583V1147Q518 1085 412.5 1023T223 930V1104Q374 1175 487 1276T647 1472H763Z"/></g>
<g transform="translate(40.29,345.75) scale(1,1.040)"><text x="0.00 11.85 17.76" font-size="21.30">0.2</text></g>
<g transform="translate(40.29,272.67) scale(1,1.040)"><text x="0.00 11.85 17.76" font-size="21.30">0.3</text></g>
<g transform="translate(40.29,199.59) scale(1,1.040)"><text x="0.00 11.85 17.76" font-size="21.30">0.4</text></g>
<g transform="translate(40.29,126.50) scale(1,1.040)"><text x="0.00 11.85 17.76" font-size="21.30">0.5</text></g>
<g transform="translate(40.29,53.42) scale(1,1.040)"><text x="0.00 11.85 17.76" font-size="21.30">0.6</text></g>
<text transform="translate(425.60,549.00) scale(1,1.040)" font-size="21.30" text-anchor="start">r</text>
<g transform="translate(23.7,309.1) rotate(-90) scale(1,1.040)"><text x="0.52" y="0.00" font-size="21.3" font-style="italic">ρ</text><text x="13.06" y="2.10" font-size="21.3">+</text><text x="25.83" y="0.00" font-size="21.3" font-style="italic">p</text><text x="39.07" y="3.50" font-size="14.0" font-style="italic">r</text><text x="45.96" y="2.10" font-size="21.3">+</text><text x="58.03" y="0.00" font-size="21.3">2</text><text x="71.83" y="0.00" font-size="21.3" font-style="italic">p</text><text x="84.66" y="3.90" font-size="14.5" font-style="italic">t</text></g>
</g>
<g fill="none" stroke-width="2.6" stroke-dasharray="9.64 3.66">
<path d="M552.3,109.3 H615.1" stroke="#00ff00"/>
<path d="M552.3,144.3 H615.1" stroke="#0000ff"/>
<path d="M552.3,179.3 H615.1" stroke="#ff0000"/>
<path d="M552.3,214.3 H615.1" stroke="#ff8080"/>
</g>
<g fill="#000">
<text transform="translate(629.0,116.70) scale(1,1.040)" font-size="20.0" font-style="italic">λ</text>
<g transform="translate(642.70,116.70) scale(1,1.040)"><text x="0.00" font-size="20.00">=</text></g>
<g transform="translate(657.30,116.70) scale(1,1.040)"><text x="0.00" font-size="20.00">0</text></g>
<text transform="translate(629.0,151.70) scale(1,1.040)" font-size="20.0" font-style="italic">λ</text>
<g transform="translate(642.70,151.70) scale(1,1.040)"><text x="0.00" font-size="20.00">=</text></g>
<g transform="translate(657.30,151.70) scale(1,1.040)"><text x="0.00 11.08 22.20 27.76" font-size="20.00">−0.5</text></g>
<text transform="translate(629.0,186.70) scale(1,1.040)" font-size="20.0" font-style="italic">λ</text>
<g transform="translate(642.70,186.70) scale(1,1.040)"><text x="0.00" font-size="20.00">=</text></g>
<g transform="translate(657.30,186.70) scale(1,1.040)"><text x="0.00" font-size="20.00">−</text><path transform="translate(11.08,0) scale(0.00977,-0.00949)" d="M763 0H583V1147Q518 1085 412.5 1023T223 930V1104Q374 1175 487 1276T647 1472H763Z"/></g>
<text transform="translate(629.0,221.70) scale(1,1.040)" font-size="20.0" font-style="italic">λ</text>
<g transform="translate(642.70,221.70) scale(1,1.040)"><text x="0.00" font-size="20.00">=</text></g>
<g transform="translate(657.30,221.70) scale(1,1.040)"><text x="0.00 11.08" font-size="20.00">−3</text></g>
<text transform="translate(684.2,221.70) scale(1,1.040)" font-size="20.0" font-style="italic">π</text>
</g>
</svg></body></html>
